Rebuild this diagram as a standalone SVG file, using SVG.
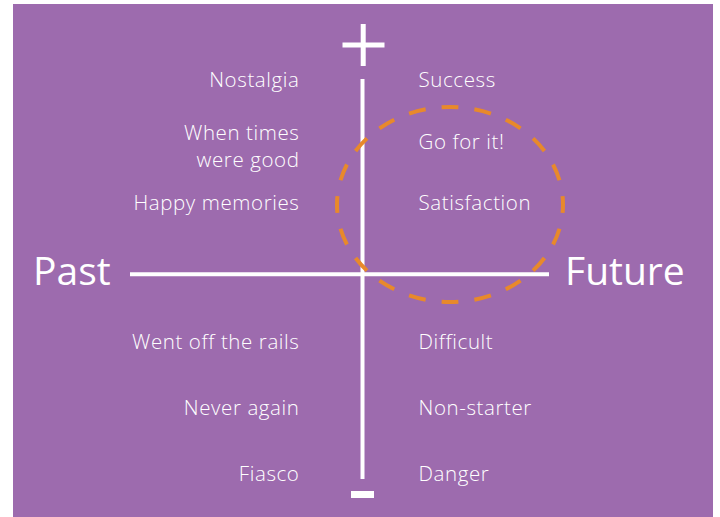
<svg xmlns="http://www.w3.org/2000/svg" width="720" height="517" viewBox="0 0 720 517">
  <style>
    .lbl { font-family: "Open Sans", "Liberation Sans", sans-serif; font-weight: 300; font-size: 20.5px; letter-spacing: 0.6px; fill: #ffffff; }
    .l { text-anchor: end; }
    .r { text-anchor: start; }
    .big { font-family: "Open Sans", "Liberation Sans", sans-serif; font-weight: 400; font-size: 39px; fill: #ffffff; }
    .axis { stroke: #ffffff; stroke-width: 4; fill: none; }
    .sign { fill: #ffffff; }
    .zone { fill: none; stroke: #E8892B; stroke-width: 4; stroke-dasharray: 17 16; stroke-dashoffset: 8.5; }
  </style>
  <rect x="13" y="4" width="700" height="513" fill="#9D6BAE"/>

  <g id="connectors">
    <line class="axis" x1="362.5" y1="79" x2="362.5" y2="479"/>
    <line class="axis" x1="130" y1="274.3" x2="549" y2="274.3"/>
  </g>

  <g id="plus">
    <rect class="sign" x="342.5" y="42.5" width="42" height="5"/>
    <rect class="sign" x="360.7" y="24" width="5" height="42"/>
  </g>
  <g id="minus">
    <rect class="sign" x="351" y="491" width="23" height="7"/>
  </g>

  <g id="focus-zone">
    <ellipse class="zone" cx="450" cy="204.5" rx="113" ry="97.5" pathLength="660"/>
  </g>

  <g id="past"><text class="big" x="33" y="285">Past</text></g>
  <g id="future"><text class="big" x="565" y="285">Future</text></g>

  <g id="past-positive">
    <text class="lbl l" x="299.5" y="87.3">Nostalgia</text>
    <text class="lbl l" x="299.5" y="140">When times</text>
    <text class="lbl l" x="299.5" y="166.5">were good</text>
    <text class="lbl l" x="299.5" y="210">Happy memories</text>
  </g>
  <g id="future-positive">
    <text class="lbl r" x="418.5" y="87.3">Success</text>
    <text class="lbl r" x="418.5" y="149.3">Go for it!</text>
    <text class="lbl r" x="418.5" y="209.5">Satisfaction</text>
  </g>
  <g id="past-negative">
    <text class="lbl l" x="299.5" y="349">Went off the rails</text>
    <text class="lbl l" x="299.5" y="415">Never again</text>
    <text class="lbl l" x="299.5" y="481">Fiasco</text>
  </g>
  <g id="future-negative">
    <text class="lbl r" x="418.5" y="349">Difficult</text>
    <text class="lbl r" x="418.5" y="415">Non-starter</text>
    <text class="lbl r" x="418.5" y="481">Danger</text>
  </g>
</svg>
